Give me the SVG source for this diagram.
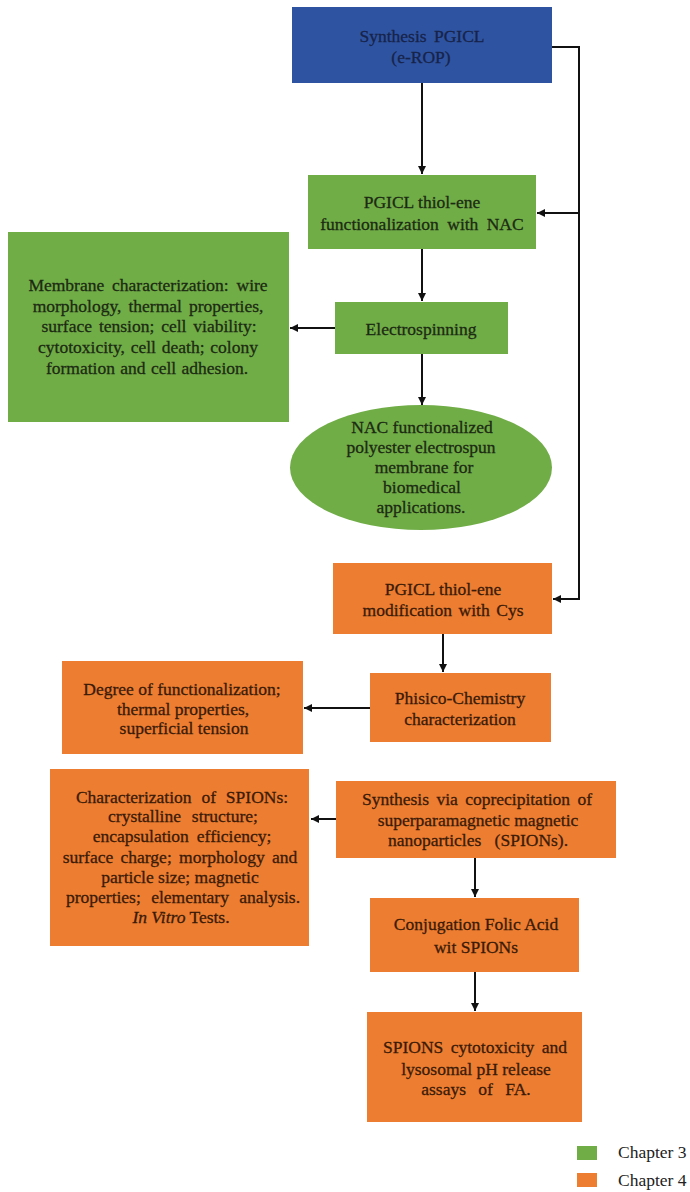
<svg xmlns="http://www.w3.org/2000/svg" width="690" height="1192" viewBox="0 0 690 1192">
<style>
text{font-family:"Liberation Serif","Times New Roman",serif;font-size:17.5px;text-anchor:middle;stroke-width:0.3px}
.g{fill:#70ad47}
.o{fill:#ed7d31}
.b{fill:#2e54a1}
.tg{fill:#1c2a12;stroke:#1c2a12}
.to{fill:#3a1a08;stroke:#3a1a08}
.tb{fill:#17234a;stroke:#17234a}
.c{fill:none;stroke:#111;stroke-width:2}
.leg{text-anchor:start;fill:#222;stroke:none}
</style>
<defs>
<marker id="ah" markerUnits="userSpaceOnUse" markerWidth="9" markerHeight="8" refX="8" refY="4" orient="auto">
<path d="M0,0 L8,4 L0,8 z" fill="#111"/>
</marker>
</defs>
<rect width="690" height="1192" fill="#ffffff"/>

<g id="connectors">
<path class="c" d="M422 83 V174" marker-end="url(#ah)"/>
<path class="c" d="M552 47 H579 V599 H553" marker-end="url(#ah)"/>
<path class="c" d="M579 213 H537" marker-end="url(#ah)"/>
<path class="c" d="M422 249 V301" marker-end="url(#ah)"/>
<path class="c" d="M335 328 H290" marker-end="url(#ah)"/>
<path class="c" d="M422 354 V405" marker-end="url(#ah)"/>
<path class="c" d="M443 634 V672" marker-end="url(#ah)"/>
<path class="c" d="M370 708 H304" marker-end="url(#ah)"/>
<path class="c" d="M336 819 H311" marker-end="url(#ah)"/>
<path class="c" d="M475 858 V897" marker-end="url(#ah)"/>
<path class="c" d="M475 972 V1011" marker-end="url(#ah)"/>
</g>

<g id="synthesis-pgicl">
<rect class="b" x="292" y="7" width="260" height="76"/>
<text class="tb" x="422" y="42" word-spacing="3">Synthesis PGICL</text>
<text class="tb" x="421" y="63">(e-ROP)</text>
</g>

<g id="nac-functionalization">
<rect class="g" x="308" y="175" width="228" height="74"/>
<text class="tg" x="422" y="208">PGICL thiol-ene</text>
<text class="tg" x="422" y="230" word-spacing="4">functionalization with NAC</text>
</g>

<g id="electrospinning">
<rect class="g" x="335" y="302" width="173" height="52"/>
<text class="tg" x="421" y="335">Electrospinning</text>
</g>

<g id="membrane-characterization">
<rect class="g" x="8" y="232" width="281" height="190"/>
<text class="tg" x="148" y="291" word-spacing="3.5">Membrane characterization: wire</text>
<text class="tg" x="148" y="312" word-spacing="2.7">morphology, thermal properties,</text>
<text class="tg" x="149" y="332" word-spacing="2.5">surface tension; cell viability:</text>
<text class="tg" x="148" y="353" word-spacing="1.4">cytotoxicity, cell death; colony</text>
<text class="tg" x="147" y="374" word-spacing="1">formation and cell adhesion.</text>
</g>

<g id="nac-membrane">
<ellipse class="g" cx="421" cy="467.5" rx="131" ry="62.5"/>
<text class="tg" x="422" y="433">NAC functionalized</text>
<text class="tg" x="421" y="453">polyester electrospun</text>
<text class="tg" x="424" y="473">membrane for</text>
<text class="tg" x="422" y="493">biomedical</text>
<text class="tg" x="421" y="513">applications.</text>
</g>

<g id="cys-modification">
<rect class="o" x="333" y="563" width="219" height="71"/>
<text class="to" x="443" y="595">PGICL thiol-ene</text>
<text class="to" x="443" y="616" word-spacing="2.2">modification with Cys</text>
</g>

<g id="phisico-chemistry">
<rect class="o" x="370" y="673" width="181" height="69"/>
<text class="to" x="460" y="704">Phisico-Chemistry</text>
<text class="to" x="460" y="725">characterization</text>
</g>

<g id="degree-functionalization">
<rect class="o" x="62" y="661" width="241" height="93"/>
<text class="to" x="182" y="695">Degree of functionalization;</text>
<text class="to" x="183" y="715">thermal properties,</text>
<text class="to" x="184" y="734">superficial tension</text>
</g>

<g id="spions-characterization">
<rect class="o" x="50" y="769" width="259" height="177"/>
<text class="to" x="182" y="803" word-spacing="5.5">Characterization of SPIONs:</text>
<text class="to" x="183" y="822" word-spacing="6.5">crystalline structure;</text>
<text class="to" x="182" y="842" word-spacing="3.6">encapsulation efficiency;</text>
<text class="to" x="180" y="863" word-spacing="3">surface charge; morphology and</text>
<text class="to" x="180" y="883">particle size; magnetic</text>
<text class="to" x="183" y="903" word-spacing="6">properties; elementary analysis.</text>
<text class="to" x="181" y="923"><tspan font-style="italic">In Vitro</tspan> Tests.</text>
</g>

<g id="spions-synthesis">
<rect class="o" x="336" y="781" width="280" height="77"/>
<text class="to" x="477" y="805" word-spacing="3">Synthesis via coprecipitation of</text>
<text class="to" x="478" y="826">superparamagnetic magnetic</text>
<text class="to" x="478" y="846" word-spacing="9">nanoparticles (SPIONs).</text>
</g>

<g id="folic-conjugation">
<rect class="o" x="370" y="898" width="209" height="74"/>
<text class="to" x="476" y="930">Conjugation Folic Acid</text>
<text class="to" x="476" y="953">wit SPIONs</text>
</g>

<g id="spions-cytotoxicity">
<rect class="o" x="367" y="1012" width="215" height="110"/>
<text class="to" x="475" y="1053" word-spacing="3">SPIONS cytotoxicity and</text>
<text class="to" x="476" y="1075">lysosomal pH release</text>
<text class="to" x="476" y="1095" word-spacing="8">assays of FA.</text>
</g>

<g id="legend">
<rect class="g" x="577" y="1146" width="20" height="14"/>
<text class="leg" x="618" y="1158">Chapter 3</text>
<rect class="o" x="577" y="1173" width="20" height="14"/>
<text class="leg" x="618" y="1186">Chapter 4</text>
</g>
</svg>
